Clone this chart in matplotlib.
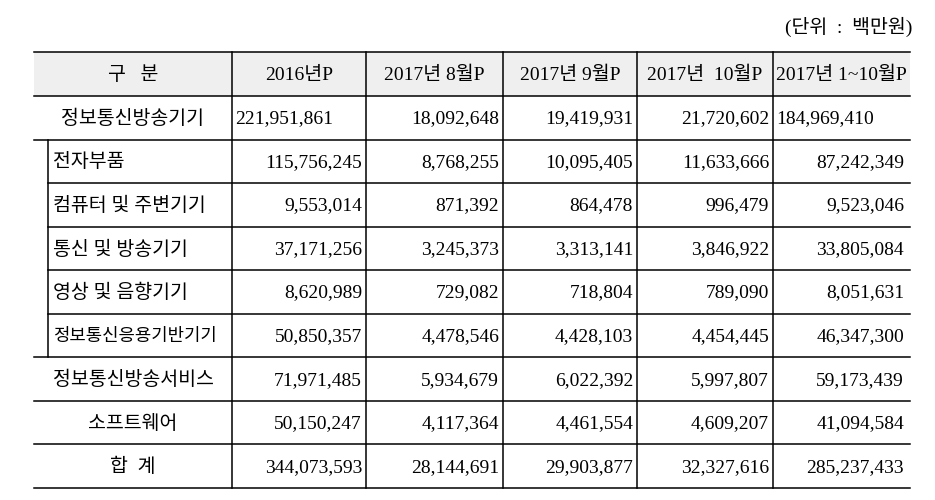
import matplotlib
matplotlib.use("Agg")
import matplotlib.pyplot as plt

# table contents
headers = ["2016년P", "2017년 8월P", "2017년 9월P", "2017년  10월P", "2017년 1~10월P"]
row_labels = ["정보통신방송기기", "전자부품", "컴퓨터 및 주변기기", "통신 및 방송기기",
              "영상 및 음향기기", "정보통신응용기반기기", "정보통신방송서비스", "소프트웨어", "합  계"]
sub_rows = [1, 2, 3, 4, 5]   # indented rows under 정보통신방송기기
values = [
    ["221,951,861", "18,092,648", "19,419,931", "21,720,602", "184,969,410"],
    ["115,756,245", "8,768,255", "10,095,405", "11,633,666", "87,242,349"],
    ["9,553,014", "871,392", "864,478", "996,479", "9,523,046"],
    ["37,171,256", "3,245,373", "3,313,141", "3,846,922", "33,805,084"],
    ["8,620,989", "729,082", "718,804", "789,090", "8,051,631"],
    ["50,850,357", "4,478,546", "4,428,103", "4,454,445", "46,347,300"],
    ["71,971,485", "5,934,679", "6,022,392", "5,997,807", "59,173,439"],
    ["50,150,247", "4,117,364", "4,461,554", "4,609,207", "41,094,584"],
    ["344,073,593", "28,144,691", "29,903,877", "32,327,616", "285,237,433"],
]
unit_text = "(단위  :  백만원)"

# layout (pixels)
col_edges = [34, 232, 366, 503, 637, 773, 910]
indent_x = 48
top, header_bot, bottom = 52, 96, 488
row_h = (bottom - header_bot) / len(row_labels)
fam = ["Liberation Serif", "Noto Sans CJK KR"]
fs = 14

fig = plt.figure(figsize=(9.35, 5), dpi=100)
ax = fig.add_axes([0, 0, 1, 1])
ax.set_xlim(0, 935)
ax.set_ylim(500, 0)
ax.axis("off")

# header background
ax.fill_between([col_edges[0], col_edges[-1]], top, header_bot, color="#efefef", lw=0)

# horizontal lines
ax.plot([col_edges[0], col_edges[-1]], [top, top], color="black", lw=1.1)
ax.plot([col_edges[0], col_edges[-1]], [header_bot, header_bot], color="black", lw=1.1)
for i in range(len(row_labels)):
    y = header_bot + (i + 1) * row_h
    x0 = indent_x if (i + 1) in sub_rows and i in sub_rows else col_edges[0]
    ax.plot([x0, col_edges[-1]], [y, y], color="black", lw=1.1)

# vertical lines
for x in col_edges[1:-1]:
    ax.plot([x, x], [top, bottom], color="black", lw=1.1)
ax.plot([indent_x, indent_x], [header_bot + sub_rows[0] * row_h,
                               header_bot + (sub_rows[-1] + 1) * row_h], color="black", lw=1.1)

# header text
hy = (top + header_bot) / 2 + 1
ax.text((col_edges[0] + col_edges[1]) / 2, hy, "구   분", ha="center", va="center",
        family=fam, fontsize=fs)
for j, h in enumerate(headers):
    ax.text((col_edges[j + 1] + col_edges[j + 2]) / 2, hy, h, ha="center", va="center",
            family=fam, fontsize=fs)

# body
for i, lab in enumerate(row_labels):
    yc = header_bot + (i + 0.5) * row_h + 1
    if i in sub_rows:
        # the longest label is squeezed to fit its cell
        lfs = fs if len(lab.replace(" ", "")) < 10 else 12.8
        ax.text(indent_x + 5, yc, lab, ha="left", va="center", family=fam, fontsize=lfs)
    else:
        ax.text((col_edges[0] + col_edges[1]) / 2, yc, lab, ha="center", va="center",
                family=fam, fontsize=fs)
    for j, v in enumerate(values[i]):
        if i == 0 and j in (0, 4):
            ax.text(col_edges[j + 1] + 3, yc, v, ha="left", va="center", family=fam, fontsize=fs)
        else:
            pad = 6 if j == 4 else 4
            ax.text(col_edges[j + 2] - pad, yc, v, ha="right", va="center", family=fam, fontsize=fs)

ax.text(912, 27, unit_text, ha="right", va="center", family=fam, fontsize=fs)

fig.savefig("out.png", dpi=100)
